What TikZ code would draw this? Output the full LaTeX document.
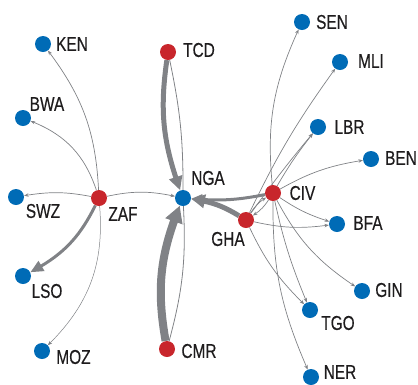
\documentclass[tikz,border=0pt]{standalone}
\usepackage{fontspec}
\setmainfont{Liberation Sans}[FakeStretch=0.77,FakeBold=0.4]
\usetikzlibrary{arrows.meta,bending}
\pgfdeclarelayer{background}
\pgfsetlayers{background,main}
\definecolor{nblue}{RGB}{0,107,182}
\definecolor{nred}{RGB}{200,38,44}
\definecolor{egray}{RGB}{128,130,134}
\definecolor{txt}{RGB}{30,28,29}
\begin{document}
\begin{tikzpicture}[x=1pt,y=1pt,
  bn/.style={circle,fill=nblue,minimum size=16pt,inner sep=0pt},
  rn/.style={circle,fill=nred,minimum size=16pt,inner sep=0pt},
  lbl/.style={inner sep=0pt,font=\fontsize{20}{20}\selectfont,text=txt},
  ethin/.style={draw=egray,line width=0.7pt,-{Stealth[length=4.5pt,width=3.5pt]}},
  enotip/.style={draw=egray,line width=0.8pt},
  ethick/.style={draw=egray,line cap=butt}]
\useasboundingbox (0,-384) rectangle (418,0);
% nodes
\node[bn] (KEN) at (43,-44) {};
\node[bn] (BWA) at (23,-118) {};
\node[bn] (SWZ) at (16,-197) {};
\node[rn] (ZAF) at (99,-198) {};
\node[bn] (LSO) at (23,-276) {};
\node[bn] (MOZ) at (42,-351) {};
\node[rn] (TCD) at (168,-52) {};
\node[bn] (NGA) at (183,-198) {};
\node[rn] (CMR) at (167,-349) {};
\node[bn] (SEN) at (302,-22) {};
\node[bn] (MLI) at (340,-62) {};
\node[bn] (LBR) at (318,-127) {};
\node[bn] (BEN) at (371,-159) {};
\node[rn] (CIV) at (273,-193) {};
\node[rn] (GHA) at (246,-220) {};
\node[bn] (BFA) at (337,-224) {};
\node[bn] (GIN) at (362,-291) {};
\node[bn] (TGO) at (310,-310) {};
\node[bn] (NER) at (311,-377) {};
% labels
\node[lbl] (KENl) at (72,-44) {KEN};
\node[lbl] (BWAl) at (47,-104) {BWA};
\node[lbl] (SWZl) at (43,-211) {SWZ};
\node[lbl] (ZAFl) at (123,-214) {ZAF};
\node[lbl] (LSOl) at (47,-291) {LSO};
\node[lbl] (MOZl) at (73.5,-357) {MOZ};
\node[lbl] (TCDl) at (199,-50) {TCD};
\node[lbl] (NGAl) at (208,-178) {NGA};
\node[lbl] (CMRl) at (199,-351) {CMR};
\node[lbl] (SENl) at (332,-22) {SEN};
\node[lbl] (MLIl) at (371,-61) {MLI};
\node[lbl] (LBRl) at (349.5,-127) {LBR};
\node[lbl] (BENl) at (401,-158) {BEN};
\node[lbl] (CIVl) at (302.5,-193) {CIV};
\node[lbl] (GHAl) at (228,-239) {GHA};
\node[lbl] (BFAl) at (368,-223) {BFA};
\node[lbl] (GINl) at (389,-290) {GIN};
\node[lbl] (TGOl) at (338,-323) {TGO};
\node[lbl] (NERl) at (340,-372) {NER};
% edges
\begin{pgfonlayer}{background}
\draw[ethin] (ZAF) to[bend right=17] (KEN);
\draw[ethin] (ZAF) to[bend right=25] (BWA);
\draw[ethin] (ZAF) to[bend right=10] (SWZ);
\draw[ethin,line width=0.5pt] (ZAF) to[bend left=25] (MOZ);
\draw[ethin] (ZAF) to[bend left=12] (NGA);
\draw[ethick,line width=3pt,-{Triangle[length=13pt,width=11pt,bend]}] (ZAF) to[bend left=18] (LSO);
\draw[ethick,line width=5pt,-{Triangle[length=14pt,width=13pt,bend]}] (TCD) to[bend right=14] (NGA);
\draw[enotip] (NGA) to[bend right=6] (TCD);
\draw[ethick,line width=8pt,-{Triangle[length=17pt,width=17pt,bend]}] (CMR) to[bend left=16] (NGA);
\draw[enotip] (NGA) to[bend left=9] (CMR);
\draw[ethick,line width=5pt,-{Triangle[length=14pt,width=13pt,bend]}] (GHA) to[bend right=12] (NGA);
\draw[ethick,line width=3pt,-{Triangle[length=11pt,width=10pt,bend]}] (CIV) to[bend left=8] (NGA);
\draw[ethin] (CIV) to[bend left=15] (SEN);
\draw[ethin] (GHA) to[bend left=5] (MLI);
\draw[ethin] (CIV) to[bend left=4] (LBR);
\draw[ethin] (GHA) to[bend left=2] (LBR);
\draw[ethin] (CIV) to[bend left=10] (BEN);
\draw[ethin] (CIV) to[bend right=8] (BFA);
\draw[ethin] (GHA) to[bend right=10] (BFA);
\draw[ethin] (CIV) to[bend right=14] (GIN);
\draw[ethin] (CIV) to[bend right=5] (TGO);
\draw[ethin] (GHA) to[bend right=10] (TGO);
\draw[ethin] (CIV) to[bend right=12] (NER);
\draw[ethin] (CIV) to[bend left=12] (GHA);
\draw[ethin] (GHA) to[bend left=12] (CIV);
\end{pgfonlayer}
\end{tikzpicture}
\end{document}
